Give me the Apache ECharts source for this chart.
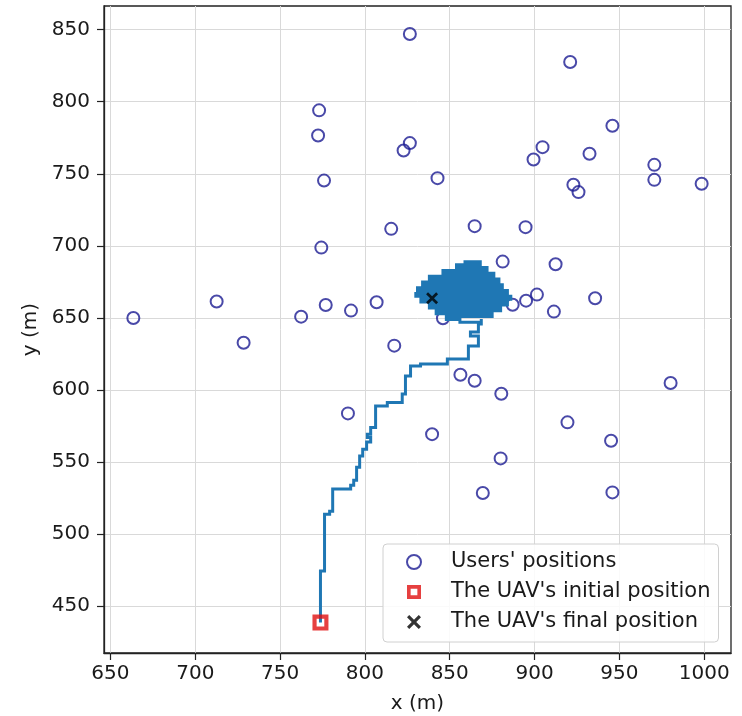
<!DOCTYPE html>
<html><head><meta charset="utf-8">
<script src="https://cdn.jsdelivr.net/npm/echarts@6/dist/echarts.min.js"></script>
<style>html,body{margin:0;padding:0;background:#fff}#c{width:742px;height:716px}</style>
</head><body><div id="c"></div>
<script>
const xTicks=[650,700,750,800,850,900,950,1000];
const yTicks=[450,500,550,600,650,700,750,800,850];
const legendNames=["Users' positions","The UAV's initial position","The UAV's final position"];
const users=[
[826.5,847.0],[921.0,827.6],[773.0,794.0],[772.4,776.6],[945.9,783.3],[826.5,771.3],[822.8,766.2],
[904.7,768.5],[899.4,759.9],[932.4,763.9],[970.6,756.2],[970.6,745.8],[775.9,745.3],[842.8,747.0],
[922.9,742.4],[925.9,737.3],[998.5,743.1],[815.5,711.8],[864.7,713.7],[894.7,713.0],[774.3,698.8],
[881.2,689.1],[912.4,687.3],[712.6,661.4],[663.5,650.0],[776.9,659.0],[762.4,650.9],[791.8,655.1],
[806.9,660.9],[846.0,649.8],[887.1,659.2],[895.0,662.0],[901.4,666.2],[911.4,654.4],[935.7,663.7],
[728.5,632.8],[817.3,630.8],[856.3,610.6],[864.7,606.5],[980.2,604.9],[880.4,597.4],[790.0,583.8],
[919.4,577.6],[839.6,569.4],[945.1,564.8],[880.0,552.6],[869.5,528.6],[945.9,529.0]
];
const initialPos=[[773.8,438.7]];
const finalPos=[[839.6,663.7]];
const trajectory=[
[773.8,438.7],[773.8,474.5],[776.2,474.5],[776.2,513.9],[779.2,513.9],[779.2,516.0],[781.0,516.0],[781.0,531.3],
[791.6,531.3],[791.6,534.0],[793.4,534.0],[793.4,537.5],[795.1,537.5],[795.1,546.5],[796.9,546.5],[796.9,554.2],
[798.7,554.2],[798.7,559.0],[801.0,559.0],[801.0,563.9],[803.4,563.9],[803.4,567.0],[801.4,567.0],[801.4,569.4],
[803.4,569.4],[803.4,574.0],[806.3,574.0],[806.3,588.9],[813.2,588.9],[813.2,591.4],[822.0,591.4],[822.0,597.2],
[823.9,597.2],[823.9,609.7],[826.9,609.7],[826.9,616.7],[832.8,616.7],[832.8,618.1],[848.6,618.1],[848.6,621.5],
[861.0,621.5],[861.0,630.6],[866.9,630.6],[866.9,637.5],[862.2,637.5],[862.2,640.3],[866.9,640.3],[866.9,645.8],
[868.6,645.8],[868.6,649.3],
[868.6,647],[856,647],[856,649],[848,649],[848,651],[875,651],[875,653],[842,653],[842,655],[880,655],
[880,657],[838,657],[838,659],[884,659],[884,661],[833,661],[833,663],[886,663],[886,665],[830,665],
[830,667],[884,667],[884,669],[831,669],[831,671],[881,671],[881,673],[834,673],[834,675],[879,675],
[879,677],[838,677],[838,679],[876,679],[876,681],[846,681],[846,683],[872,683],[872,685],[854,685],
[854,687],[868,687],[868,689],[859,689],[859,676],[846,676],[846,668],[839.6,668],[839.6,663.7]
];
const FONT='DejaVu Sans';
const userColor='#1c1c92';
const crossPath='path://M0,1.6L1.6,0L5,3.4L8.4,0L10,1.6L6.6,5L10,8.4L8.4,10L5,6.6L1.6,10L0,8.4L3.4,5Z';
const squarePath='path://M0,0H10V10H0Z M2.6,2.6V7.4H7.4V2.6Z';
const chart=echarts.init(document.getElementById('c'),null,{renderer:'canvas'});
const axisCommon={
  type:'value', splitNumber:8,
  axisLine:{show:true,lineStyle:{color:'#222',width:1.3}},
  axisTick:{show:true,length:7,lineStyle:{color:'#222',width:1.2}},
  splitLine:{show:true,lineStyle:{color:'#d9d9d9',width:1}},
  nameTextStyle:{fontFamily:FONT,fontSize:20,color:'#1a1a1a'},
};
chart.setOption({
  animation:false,
  backgroundColor:'#fff',
  grid:{left:104,right:11,top:6,bottom:63,containLabel:false,outerBoundsMode:'none',show:true,borderColor:'#222',borderWidth:1.3,backgroundColor:'transparent'},
  xAxis:Object.assign({},axisCommon,{
    min:646.2,max:1015.8,
    name:'x (m)',nameLocation:'middle',nameGap:41,
    axisTick:Object.assign({},axisCommon.axisTick,{customValues:xTicks}),
    axisLabel:{customValues:xTicks,margin:11,fontFamily:FONT,fontSize:20,color:'#1a1a1a',formatter:v=>String(Math.round(v))}
  }),
  yAxis:Object.assign({},axisCommon,{
    min:417.6,max:866.4,
    name:'y (m)',nameLocation:'middle',nameGap:63,nameRotate:90,
    axisTick:Object.assign({},axisCommon.axisTick,{customValues:yTicks}),
    axisLabel:{customValues:yTicks,margin:14,fontFamily:FONT,fontSize:20,color:'#1a1a1a',formatter:v=>String(Math.round(v))}
  }),
  legend:{
    orient:'vertical',left:383,top:544,
    padding:[7,8,9,23],itemGap:8,itemWidth:14,itemHeight:14,
    backgroundColor:'rgba(255,255,255,0.85)',borderColor:'#d0d0d0',borderWidth:1,borderRadius:4,
    textStyle:{fontFamily:FONT,fontSize:21,color:'#1a1a1a',lineHeight:22,padding:[0,0,0,25]},
    data:[
      {name:legendNames[0],icon:'circle',itemStyle:{color:'rgba(255,255,255,0)',borderColor:userColor,borderWidth:2}},
      {name:legendNames[1],icon:squarePath,itemStyle:{color:'#e01010',borderWidth:0}},
      {name:legendNames[2],icon:crossPath,itemStyle:{color:'#000',borderWidth:0}}
    ]
  },
  series:[
    {name:legendNames[0],type:'scatter',data:users,symbol:'circle',symbolSize:12,
     itemStyle:{color:'rgba(255,255,255,0)',borderColor:userColor,borderWidth:2},z:2},
    {name:'trajectory',type:'line',data:trajectory,showSymbol:false,symbol:'none',
     lineStyle:{color:'#1f77b4',width:3,join:'miter',cap:'butt'},z:3},
    {name:legendNames[1],type:'scatter',data:initialPos,symbol:squarePath,symbolSize:16,
     itemStyle:{color:'#e01010'},z:4},
    {name:legendNames[2],type:'scatter',data:finalPos,symbol:crossPath,symbolSize:12,
     itemStyle:{color:'#000'},z:5}
  ]
});
</script></body></html>
